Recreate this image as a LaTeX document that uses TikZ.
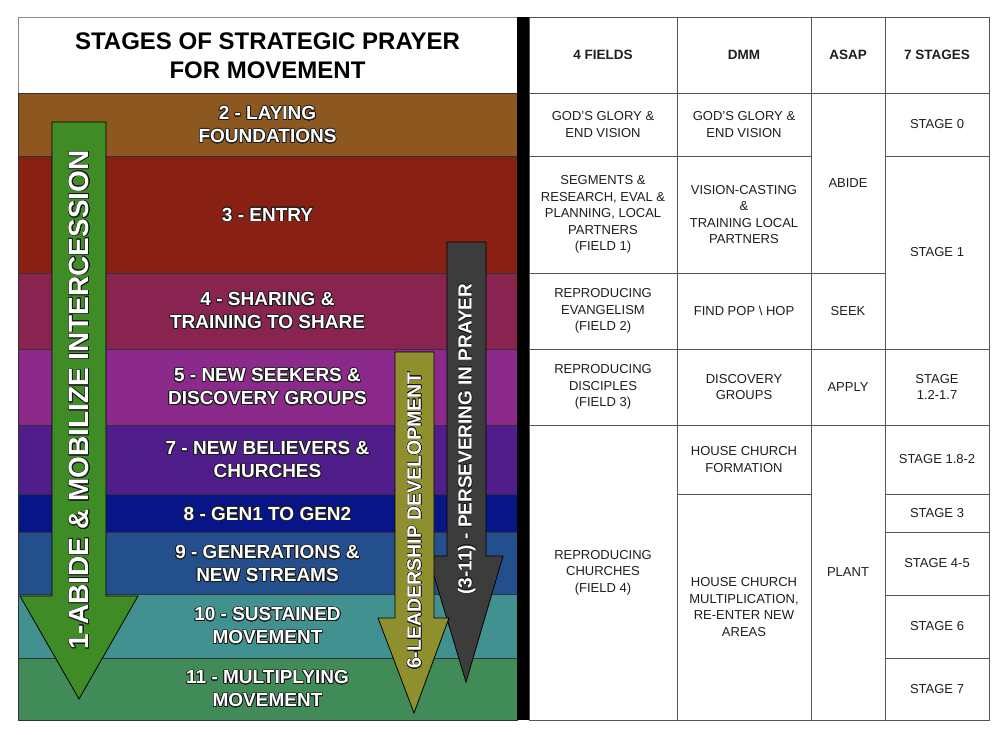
\documentclass[tikz,border=0pt]{standalone}
\usepackage{fontspec}
\setmainfont{Liberation Sans}
\usepackage[copies]{contour}
\contournumber{24}
\definecolor{cband2}{HTML}{8C5820}
\definecolor{cband3}{HTML}{892014}
\definecolor{cband4}{HTML}{892350}
\definecolor{cband5}{HTML}{8C2A8C}
\definecolor{cband7}{HTML}{4F1E8A}
\definecolor{cband8}{HTML}{081588}
\definecolor{cband9}{HTML}{23508C}
\definecolor{cband10}{HTML}{429191}
\definecolor{cband11}{HTML}{408B58}
\definecolor{cgreen}{HTML}{3F8C27}
\definecolor{colive}{HTML}{8F8F2D}
\definecolor{cgray}{HTML}{3C3C3C}
\definecolor{tline}{HTML}{555555}
\definecolor{ttext}{HTML}{1E1E1E}
\definecolor{outl}{HTML}{1A1A1A}
\newcommand\oltext[1]{\contourlength{0.7pt}\contour{outl}{#1}}
\newcommand\arrtext[1]{\contourlength{0.45pt}\contour{outl}{#1}}
\begin{document}
\begin{tikzpicture}[x=1pt,y=-1pt,
  band/.style={draw=black!80,line width=0.8pt},
  bandlabel/.style={text=white,align=center,font=\fontsize{19}{23}\selectfont\bfseries,inner sep=0pt},
  arrowshape/.style={draw=black,line width=0.8pt},
  arrowlabel/.style={text=white,rotate=90,inner sep=0pt,font=\bfseries},
  tcell/.style={draw=tline,line width=0.8pt,align=center,text=ttext,inner sep=0pt,outer sep=0pt,
     font=\fontsize{13}{16.5}\selectfont},
  thead/.style={tcell,font=\fontsize{13.5}{16.5}\selectfont\bfseries}
]
\useasboundingbox (0,0) rectangle (1008,734);
\fill[white] (0,0) rectangle (1008,734);

% ---------- left panel: title and bands ----------
\draw[draw=black!45,line width=0.8pt,fill=white] (18,17) rectangle (517,93);
\node[align=center,inner sep=0pt,font=\fontsize{24}{29}\selectfont\bfseries] (title) at (267.5,56)
  {STAGES OF STRATEGIC PRAYER\\FOR MOVEMENT};

\draw[band,fill=cband2]  (18,93)  rectangle (517,156);
\draw[band,fill=cband3]  (18,156) rectangle (517,273);
\draw[band,fill=cband4]  (18,273) rectangle (517,349);
\draw[band,fill=cband5]  (18,349) rectangle (517,425);
\draw[band,fill=cband7]  (18,425) rectangle (517,494);
\draw[band,fill=cband8]  (18,494) rectangle (517,532);
\draw[band,fill=cband9]  (18,532) rectangle (517,594);
\draw[band,fill=cband10] (18,594) rectangle (517,658);
\draw[band,fill=cband11] (18,658) rectangle (517,720);

\node[bandlabel] (b2)  at (267.5,125) {\oltext{2 - LAYING}\\\oltext{FOUNDATIONS}};
\node[bandlabel] (b3)  at (267.5,215) {\oltext{3 - ENTRY}};
\node[bandlabel] (b4)  at (267.5,311) {\oltext{4 - SHARING \&}\\\oltext{TRAINING TO SHARE}};
\node[bandlabel] (b5)  at (267.5,387) {\oltext{5 - NEW SEEKERS \&}\\\oltext{DISCOVERY GROUPS}};
\node[bandlabel] (b7)  at (267.5,460) {\oltext{7 - NEW BELIEVERS \&}\\\oltext{CHURCHES}};
\node[bandlabel] (b8)  at (267.5,514) {\oltext{8 - GEN1 TO GEN2}};
\node[bandlabel] (b9)  at (267.5,564) {\oltext{9 - GENERATIONS \&}\\\oltext{NEW STREAMS}};
\node[bandlabel] (b10) at (267.5,626) {\oltext{10 - SUSTAINED}\\\oltext{MOVEMENT}};
\node[bandlabel] (b11) at (267.5,689) {\oltext{11 - MULTIPLYING}\\\oltext{MOVEMENT}};

% ---------- arrows ----------
\draw[arrowshape,fill=cgreen] (52,122) -- (106,122) -- (106,596) -- (138,596) -- (79,699)
  -- (20,596) -- (52,596) -- cycle;
\node[arrowlabel,font=\fontsize{28}{30}\selectfont\bfseries] (greenlbl) at (79.5,400)
  {\arrtext{1-ABIDE \& MOBILIZE INTERCESSION}};

\draw[arrowshape,fill=cgray] (447,242) -- (486,242) -- (486,556) -- (503,556) -- (466,682)
  -- (428,556) -- (447,556) -- cycle;
\node[arrowlabel,font=\fontsize{19}{21}\selectfont\bfseries] (graylbl) at (467,439)
  {\arrtext{(3-11) - PERSEVERING IN PRAYER}};

\draw[arrowshape,fill=colive] (395,352) -- (434,352) -- (434,618) -- (449,618) -- (414,713)
  -- (378,618) -- (395,618) -- cycle;
\node[arrowlabel,font=\fontsize{19.5}{21}\selectfont\bfseries] (olivelbl) at (414.5,520.5)
  {\arrtext{6-LEADERSHIP DEVELOPMENT}};

% ---------- black divider ----------
\fill[black] (517,17) rectangle (529,720);

% ---------- table ----------
\newcommand\tc[6][tcell]{\node[#1,minimum width={#4-#2},minimum height={#5-#3}]
  at ({(#2+#4)/2},{(#3+#5)/2}) {#6};}
% header
\node[thead,minimum width=148,minimum height=76] (hf) at (603,55) {4 FIELDS};
\node[thead,minimum width=134,minimum height=76] (hd) at (744,55) {DMM};
\node[thead,minimum width=74,minimum height=76]  (ha) at (848,55) {ASAP};
\node[thead,minimum width=104,minimum height=76] (hs) at (937,55) {7 STAGES};
% 4 fields column
\node[tcell,minimum width=148,minimum height=63]  (f0) at (603,124.5) {GOD'S GLORY \&\\END VISION};
\node[tcell,minimum width=148,minimum height=117] (f1) at (603,214.5) {SEGMENTS \&\\RESEARCH, EVAL \&\\PLANNING, LOCAL\\PARTNERS\\(FIELD 1)};
\node[tcell,minimum width=148,minimum height=76]  (f2) at (603,311) {REPRODUCING\\EVANGELISM\\(FIELD 2)};
\node[tcell,minimum width=148,minimum height=76]  (f3) at (603,387) {REPRODUCING\\DISCIPLES\\(FIELD 3)};
\node[tcell,minimum width=148,minimum height=295] (f4) at (603,572.5) {REPRODUCING\\CHURCHES\\(FIELD 4)};
% DMM column
\node[tcell,minimum width=134,minimum height=63]  (d0) at (744,124.5) {GOD'S GLORY \&\\END VISION};
\node[tcell,minimum width=134,minimum height=117] (d1) at (744,214.5) {VISION-CASTING\\\&\\TRAINING LOCAL\\PARTNERS};
\node[tcell,minimum width=134,minimum height=76]  (d2) at (744,311) {FIND POP \textbackslash\ HOP};
\node[tcell,minimum width=134,minimum height=76]  (d3) at (744,387) {DISCOVERY\\GROUPS};
\node[tcell,minimum width=134,minimum height=69]  (d4) at (744,459.5) {HOUSE CHURCH\\FORMATION};
\node[tcell,minimum width=134,minimum height=226] (d5) at (744,607) {HOUSE CHURCH\\MULTIPLICATION,\\RE-ENTER NEW\\AREAS};
% ASAP column
\node[tcell,minimum width=74,minimum height=180] (a1) at (848,183) {ABIDE};
\node[tcell,minimum width=74,minimum height=76]  (a2) at (848,311) {SEEK};
\node[tcell,minimum width=74,minimum height=76]  (a3) at (848,387) {APPLY};
\node[tcell,minimum width=74,minimum height=295] (a4) at (848,572.5) {PLANT};
% 7 stages column
\node[tcell,minimum width=104,minimum height=63]  (s0) at (937,124.5) {STAGE 0};
\node[tcell,minimum width=104,minimum height=193] (s1) at (937,252.5) {STAGE 1};
\node[tcell,minimum width=104,minimum height=76]  (s2) at (937,387) {STAGE\\1.2-1.7};
\node[tcell,minimum width=104,minimum height=69]  (s3) at (937,459.5) {STAGE 1.8-2};
\node[tcell,minimum width=104,minimum height=38]  (s4) at (937,513) {STAGE 3};
\node[tcell,minimum width=104,minimum height=63]  (s5) at (937,563.5) {STAGE 4-5};
\node[tcell,minimum width=104,minimum height=63]  (s6) at (937,626.5) {STAGE 6};
\node[tcell,minimum width=104,minimum height=62]  (s7) at (937,689) {STAGE 7};
\end{tikzpicture}
\end{document}
